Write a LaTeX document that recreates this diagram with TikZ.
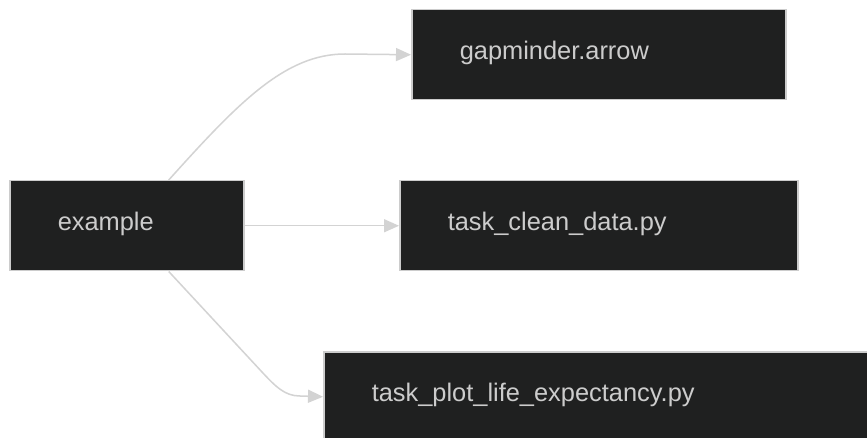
\documentclass[tikz,border=0pt]{standalone}
\usepackage{fontspec}
\setmainfont{Liberation Sans}
\usetikzlibrary{arrows.meta,calc}
\definecolor{boxfill}{HTML}{1F2020}
\definecolor{boxline}{HTML}{CCCCCC}
\definecolor{boxtext}{HTML}{CCCCCC}
\definecolor{edgecol}{HTML}{D3D3D3}
\tikzset{
  taskbox/.style={draw=boxline, line width=1.5pt, fill=boxfill, text=boxtext,
    anchor=north west, inner xsep=48pt, inner ysep=0pt, minimum height=90pt,
    text height=19pt, text depth=10pt,
    align=left, font=\fontsize{25.4}{30}\selectfont},
  link/.style={draw=edgecol, line width=1.5pt, -{Triangle[length=15pt,width=13pt]}}
}
\begin{document}
\begin{tikzpicture}[x=1pt,y=-1pt]
\useasboundingbox[fill=white] (0,0) rectangle (867,438);
\node[taskbox, text width=138pt] (ex) at (9,180) {example};
\node[taskbox, text width=278pt] (gm) at (411,9) {gapminder.arrow};
\node[taskbox, text width=302pt] (cd) at (399,180) {task\_clean\_data.py};
\node[taskbox, text width=450pt] (pl) at (323,351) {task\_plot\_life\_expectancy.py};
\draw[link] ([xshift=42pt]ex.north) .. controls (238,103) and (285,54) .. (345,54) -- (gm.west);
\draw[link] (ex.east) -- (cd.west);
\draw[link] ([xshift=42pt]ex.south) -- (262,372) .. controls (276,387) and (285,396) .. (300,396) -- (pl.west);
\end{tikzpicture}
\end{document}
